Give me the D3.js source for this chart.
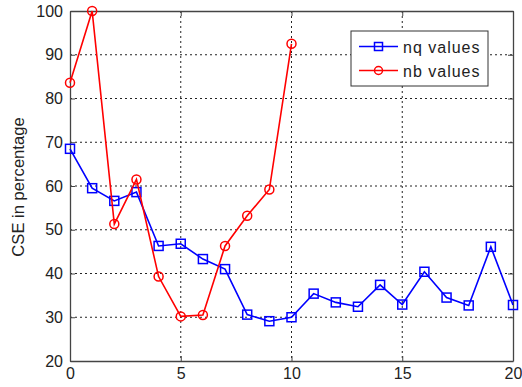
<!DOCTYPE html>
<html>
<head>
<meta charset="utf-8">
<script src="https://cdn.jsdelivr.net/npm/d3@7"></script>
<style>
  body { margin: 0; background: #fff; }
  svg text { font-family: "Liberation Sans", Arial, sans-serif; fill: #222; }
</style>
</head>
<body>
<div id="chart"></div>
<script>
// data
var nqX = [0, 1, 2, 3, 4, 5, 6, 7, 8, 9, 10, 11, 12, 13, 14, 15, 16, 17, 18, 19, 20];
var nqValues = [68.5, 59.5, 56.6, 58.6, 46.3, 46.8, 43.3, 41.0, 30.6, 29.1, 30.0, 35.4, 33.4, 32.4, 37.4, 32.9, 40.4, 34.5, 32.7, 46.1, 32.8];
var nbX = [0, 1, 2, 3, 4, 5, 6, 7, 8, 9, 10];
var nbValues = [83.6, 100, 51.3, 61.5, 39.3, 30.2, 30.5, 46.3, 53.2, 59.2, 92.5];
var xTicks = [0, 5, 10, 15, 20];
var yTicks = [20, 30, 40, 50, 60, 70, 80, 90, 100];
var seriesNames = ["nq values", "nb values"];

var W = 522, H = 387;
var margin = {top: 11, right: 9, bottom: 26, left: 70};
var width = W - margin.left - margin.right,
    height = H - margin.top - margin.bottom;

var x = d3.scaleLinear().domain([0, 20]).range([0, width]);
var y = d3.scaleLinear().domain([20, 100]).range([height, 0]);

var svg = d3.select("#chart").append("svg")
    .attr("width", W)
    .attr("height", H);

var g = svg.append("g")
    .attr("transform", "translate(" + margin.left + "," + margin.top + ")");

// grid
g.selectAll(".vgrid").data(xTicks.slice(1, -1)).enter().append("line")
    .attr("x1", function(d) { return x(d); }).attr("x2", function(d) { return x(d); })
    .attr("y1", 0).attr("y2", height)
    .attr("stroke", "#222").attr("stroke-dasharray", "2,3").attr("stroke-width", 1);
g.selectAll(".hgrid").data(yTicks.slice(1, -1)).enter().append("line")
    .attr("y1", function(d) { return y(d); }).attr("y2", function(d) { return y(d); })
    .attr("x1", 0).attr("x2", width)
    .attr("stroke", "#222").attr("stroke-dasharray", "2,3").attr("stroke-width", 1);

// axes (ticks inward, box)
var axisColor = "#444";
var xAxis = g.append("g").attr("transform", "translate(0," + height + ")")
    .call(d3.axisBottom(x).tickValues(xTicks).tickSizeInner(-5).tickSizeOuter(0).tickPadding(7));
var yAxis = g.append("g")
    .call(d3.axisLeft(y).tickValues(yTicks).tickSizeInner(-5).tickSizeOuter(0).tickPadding(7));
var xTop = g.append("g")
    .call(d3.axisTop(x).tickValues(xTicks).tickSizeInner(-5).tickSizeOuter(0).tickFormat(""));
var yRight = g.append("g").attr("transform", "translate(" + width + ",0)")
    .call(d3.axisRight(y).tickValues(yTicks).tickSizeInner(-5).tickSizeOuter(0).tickFormat(""));

[xAxis, yAxis, xTop, yRight].forEach(function(a) {
  a.select(".domain").attr("stroke", axisColor).attr("stroke-width", 1.3);
  a.selectAll(".tick line").attr("stroke", axisColor);
  a.selectAll(".tick text").style("font-size", "16px").attr("fill", "#222");
});

// y label
svg.append("text")
    .attr("transform", "translate(24," + (margin.top + height / 2 + 1) + ") rotate(-90)")
    .attr("text-anchor", "middle")
    .style("font-size", "16.6px")
    .text("CSE in percentage");

// lines
var nqData = nqX.map(function(d, i) { return [d, nqValues[i]]; });
var nbData = nbX.map(function(d, i) { return [d, nbValues[i]]; });
var line = d3.line().x(function(d) { return x(d[0]); }).y(function(d) { return y(d[1]); });

g.append("path").datum(nqData).attr("d", line)
    .attr("fill", "none").attr("stroke", "#0000ff").attr("stroke-width", 1.6);
g.selectAll(".sq").data(nqData).enter().append("rect")
    .attr("x", function(d) { return x(d[0]) - 4.5; })
    .attr("y", function(d) { return y(d[1]) - 4.5; })
    .attr("width", 9).attr("height", 9)
    .attr("fill", "none").attr("stroke", "#0000ff").attr("stroke-width", 1.5);

g.append("path").datum(nbData).attr("d", line)
    .attr("fill", "none").attr("stroke", "#ff0000").attr("stroke-width", 1.6);
g.selectAll(".ci").data(nbData).enter().append("circle")
    .attr("cx", function(d) { return x(d[0]); })
    .attr("cy", function(d) { return y(d[1]); })
    .attr("r", 4.5)
    .attr("fill", "none").attr("stroke", "#ff0000").attr("stroke-width", 1.5);

// legend
var leg = svg.append("g").attr("transform", "translate(351,31)");
leg.append("rect").attr("width", 137).attr("height", 55)
    .attr("fill", "#fff").attr("stroke", "#333").attr("stroke-width", 1);
var colors = ["#0000ff", "#ff0000"];
seriesNames.forEach(function(name, i) {
  var yy = 15.5 + i * 24;
  leg.append("line").attr("x1", 8).attr("x2", 47).attr("y1", yy).attr("y2", yy)
      .attr("stroke", colors[i]).attr("stroke-width", 1.6);
  if (i === 0) {
    leg.append("rect").attr("x", 23.5).attr("y", yy - 4).attr("width", 8).attr("height", 8)
        .attr("fill", "none").attr("stroke", colors[i]).attr("stroke-width", 1.5);
  } else {
    leg.append("circle").attr("cx", 27.5).attr("cy", yy).attr("r", 4)
        .attr("fill", "none").attr("stroke", colors[i]).attr("stroke-width", 1.5);
  }
  leg.append("text").attr("x", 52).attr("y", yy + 6.5)
      .style("font-size", "16px").style("letter-spacing", "1px").text(name);
});
</script>
</body>
</html>
